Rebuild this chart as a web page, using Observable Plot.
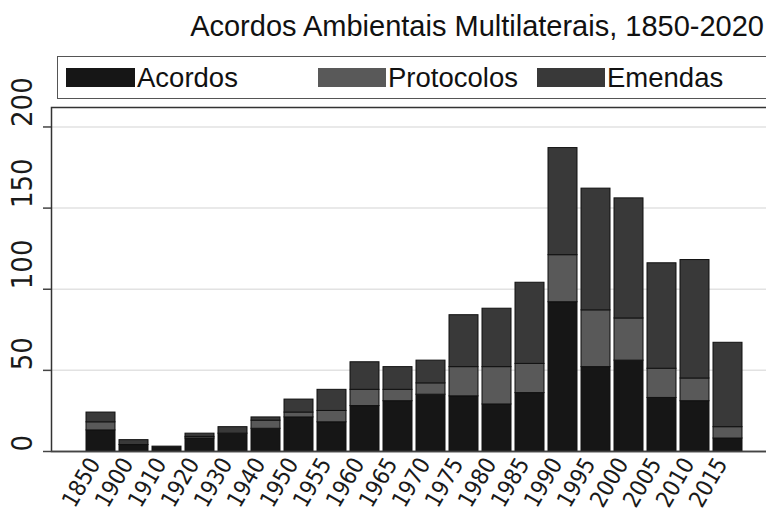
<!DOCTYPE html>
<html>
<head>
<meta charset="utf-8">
<script src="https://cdn.jsdelivr.net/npm/d3@7"></script>
<script src="https://cdn.jsdelivr.net/npm/@observablehq/plot@0.6"></script>
<style>
  html, body { margin: 0; padding: 0; background: #fff; }
  #wrap { position: relative; width: 766px; height: 514px; overflow: hidden; background: #fff;
          font-family: "Liberation Sans", Arial, Helvetica, sans-serif; color: #111; }
  #title { position: absolute; right: 2px; top: 12px; font-size: 29px; line-height: 29px; white-space: nowrap; }
  #legend { position: absolute; left: 57px; top: 56px; width: 720px; height: 43px;
            border: 1.5px solid #555; box-sizing: border-box; }
  .sw { position: absolute; height: 19px; }
  .lt { position: absolute; font-size: 27.5px; line-height: 27px; white-space: nowrap; }
  #chart { position: absolute; left: 0; top: 0; }
</style>
</head>
<body>
<div id="wrap">
  <div id="chart"></div>
  <div id="title">Acordos Ambientais Multilaterais, 1850-2020</div>
  <div id="legend"></div>
</div>
<script>
const years = ["1850","1900","1910","1920","1930","1940","1950","1955","1960","1965","1970","1975","1980","1985","1990","1995","2000","2005","2010","2015"];
const acordos    = [13, 4, 3, 8, 11, 14, 21, 18, 28, 31, 35, 34, 29, 36, 92, 52, 56, 33, 31, 8];
const protocolos = [ 5, 0, 0, 1,  0,  5,  3,  7, 10,  7,  7, 18, 23, 18, 29, 35, 26, 18, 14, 7];
const emendas    = [ 6, 3, 0, 2,  4,  2,  8, 13, 17, 14, 14, 32, 36, 50, 66, 75, 74, 65, 73, 52];
const series = ["Acordos", "Protocolos", "Emendas"];
const colors = ["#161616", "#595959", "#393939"];
const yTicks = [0, 50, 100, 150, 200];

const valuesBySeries = [acordos, protocolos, emendas];
const rows = [];
years.forEach((yr, i) => {
  series.forEach((s, j) => rows.push({year: yr, series: s, value: valuesBySeries[j][i]}));
});

// legend (HTML)
const legend = document.getElementById("legend");
const swLeft = [8, 260, 479];
const swWidth = [69, 68, 68];
series.forEach((s, j) => {
  const sw = document.createElement("div");
  sw.className = "sw";
  sw.style.left = swLeft[j] + "px";
  sw.style.top = "11px";
  sw.style.width = swWidth[j] + "px";
  sw.style.background = colors[j];
  legend.appendChild(sw);
  const t = document.createElement("div");
  t.className = "lt";
  t.style.left = (swLeft[j] + swWidth[j] + 2) + "px";
  t.style.top = "7px";
  t.textContent = s;
  legend.appendChild(t);
});

const axisFont = "'Liberation Sans Narrow', 'DejaVu Sans Condensed', 'Liberation Sans', sans-serif";

const chart = Plot.plot({
  width: 766,
  height: 514,
  marginTop: 107,
  marginBottom: 63,
  marginLeft: 51,
  marginRight: 0,
  style: {fontFamily: "'Liberation Sans', Arial, Helvetica, sans-serif", background: "transparent", color: "#111"},
  x: {domain: years, range: [75, 753], padding: 0.12, axis: null},
  y: {domain: [0, 212], axis: null},
  color: {domain: series, range: colors},
  marks: [
    Plot.ruleY(yTicks.filter(d => d > 0), {stroke: "#e2e2e2", strokeWidth: 1.5}),
    Plot.barY(rows, Plot.stackY({x: "year", y: "value", fill: "series", order: series, stroke: "#111", strokeWidth: 1})),
    Plot.frame({stroke: "#333", strokeWidth: 1.5, insetRight: -4}),
    Plot.ruleY([0], {stroke: "#444", strokeWidth: 1.5}),
    Plot.ruleY(yTicks, {stroke: "#444", strokeWidth: 1.5, insetLeft: -8, insetRight: 715}),
    Plot.text(yTicks, {y: d => d, text: d => String(d), frameAnchor: "left", dx: -29, rotate: -90, fontSize: 29, fontFamily: axisFont, fill: "#1a1a1a"}),
    Plot.text(years, {x: d => d, text: d => d, frameAnchor: "bottom", rotate: -60, textAnchor: "end", dx: 0, dy: 12, fontSize: 23, fontFamily: axisFont, fill: "#1a1a1a"})
  ]
});
document.getElementById("chart").appendChild(chart);
</script>
</body>
</html>
